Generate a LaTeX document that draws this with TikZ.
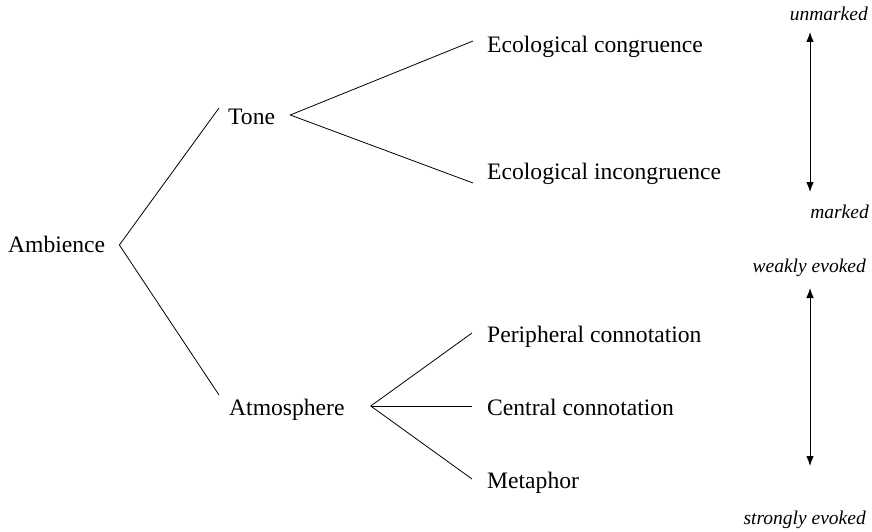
\documentclass[tikz,border=0pt]{standalone}
\usepackage{fontspec}
\setmainfont{Liberation Serif}
\usetikzlibrary{arrows.meta}
\begin{document}
\begin{tikzpicture}[x=1pt,y=-1pt,
  term/.style={inner sep=0pt, anchor=west, text height=15pt, text depth=0pt,
               font=\fontsize{23.6}{28}\selectfont},
  scale label/.style={inner sep=0pt, anchor=east, text height=13pt, text depth=0pt,
               font=\fontsize{19.5}{23}\selectfont\itshape},
  branch/.style={line width=0.8pt},
  scale arrow/.style={line width=0.9pt, {Latex[length=10pt,width=7.5pt]}-{Latex[length=10pt,width=7.5pt]}}]
  \useasboundingbox (0,0) rectangle (872,532);

  % tree terms
  \node[term] (amb)  at (8,245)   {Ambience};
  \node[term] (tone) at (228,117) {Tone};
  \node[term] (atm)  at (229,408) {Atmosphere};
  \node[term] (ecoc) at (487,45)  {Ecological congruence};
  \node[term] (ecoi) at (487,172) {Ecological incongruence};
  \node[term] (peri) at (487,335) {Peripheral connotation};
  \node[term] (cent) at (487,408) {Central connotation};
  \node[term] (meta) at (487,481) {Metaphor};

  % branches (yshift is in page units, positive = upwards)
  \draw[branch] ([xshift=-9pt,yshift=9pt]tone.west) -- ([xshift=14pt]amb.east)
                -- ([xshift=-10pt,yshift=13pt]atm.west);
  \draw[branch] ([xshift=-14pt,yshift=4pt]ecoc.west) -- ([xshift=15pt,yshift=2pt]tone.east)
                -- ([xshift=-14pt,yshift=-11pt]ecoi.west);
  \draw[branch] ([xshift=-15pt,yshift=2pt]peri.west) -- ([xshift=26pt,yshift=2pt]atm.east)
                -- ([xshift=-15pt,yshift=2pt]meta.west);
  \draw[branch] ([xshift=26pt,yshift=2pt]atm.east) -- ([xshift=-15pt,yshift=2pt]cent.west);

  % markedness scale
  \node[scale label] (unm) at (868,14)  {unmarked};
  \node[scale label] (mkd) at (869,212) {marked};
  \coordinate (a1) at (810,32);
  \coordinate (a2) at (810,192);
  \draw[scale arrow] (a1) -- (a2);

  % evocation scale
  \node[scale label] (weak) at (866,266) {weakly evoked};
  \node[scale label] (strg) at (866,518) {strongly evoked};
  \coordinate (b1) at (810,288);
  \coordinate (b2) at (810,466);
  \draw[scale arrow] (b1) -- (b2);
\end{tikzpicture}
\end{document}
